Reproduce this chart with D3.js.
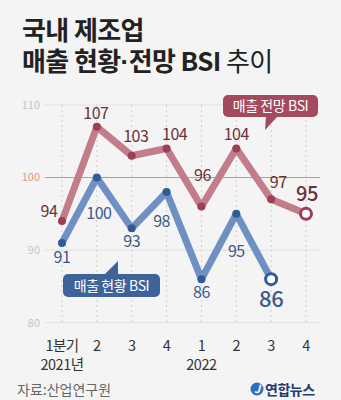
<!DOCTYPE html>
<html><head><meta charset="utf-8">
<script src="https://cdn.jsdelivr.net/npm/d3@7"></script>
<style>
html,body{margin:0;padding:0;background:#f4f4f4;}
svg{display:block;font-family:"Noto Sans CJK KR","Noto Sans",sans-serif;}
</style></head>
<body>
<svg id="c" width="341" height="400"></svg>
<script>
// ---- data ----
const quarters = ["1분기","2","3","4","1","2","3","4"];
const years = ["2021년","","","","2022","","",""];
const outlook = [94,107,103,104,96,104,97,95];   // 매출 전망 BSI
const current = [91,100,93,98,86,95,86];         // 매출 현황 BSI
const yTicks = [80,90,100,110];
const title1 = "국내 제조업";
const title2 = ["매출 현황", "·", "전망 BSI", " 추이"];
const source = "자료:산업연구원";
const outlookName = "매출 전망 BSI";
const currentName = "매출 현황 BSI";

// label offsets (layout)
const outlookOff = [[-13,-4],[-1,-8],[4,-14],[8,-9],[1,-26],[0,-9],[7,-11],[1,-13]];
const currentOff = [[0,20],[2,41],[0,19],[-5,35],[0,19],[0,43],[0,28]];

const svg = d3.select("#c");
const x = d3.scalePoint().domain(d3.range(quarters.length)).range([62,306]);
const y = d3.scaleLinear().domain([80,110]).range([322.7,105]);

// title
svg.append("text").attr("x",22).attr("y",40).attr("font-size",26).attr("font-weight",700)
  .attr("fill","#222").attr("letter-spacing",-0.6).text(title1);
const t2 = svg.append("text").attr("x",22).attr("y",71).attr("font-size",26).attr("fill","#222").attr("letter-spacing",-0.6);
t2.append("tspan").attr("font-weight",700).text(title2[0]);
t2.append("tspan").attr("font-weight",700).attr("font-family","'Liberation Sans',sans-serif").text(title2[1]);
t2.append("tspan").attr("font-weight",700).text(title2[2]);
t2.append("tspan").attr("font-weight",400).text(title2[3]);

// grid
const g = svg.append("g");
g.selectAll("line.grid").data(yTicks).join("line")
  .attr("x1",45).attr("x2",320).attr("y1",d=>y(d)).attr("y2",d=>y(d))
  .attr("stroke",d=>d===100?"#e2876c":"#e0e0e0").attr("stroke-width",1);
g.selectAll("text.yt").data(yTicks).join("text")
  .attr("x",40).attr("y",d=>y(d)).attr("dy","0.35em").attr("text-anchor","end")
  .attr("font-size",11).attr("fill",d=>d===100?"#e39a82":"#c4c4c4").text(d=>d);
// vertical dotted
g.selectAll("line.v").data(quarters).join("line")
  .attr("x1",(d,i)=>x(i)).attr("x2",(d,i)=>x(i)).attr("y1",y(110)).attr("y2",y(80))
  .attr("stroke","#cfcfcf").attr("stroke-dasharray","2,3").attr("stroke-width",1);

// x labels
svg.selectAll("text.xq").data(quarters).join("text")
  .attr("x",(d,i)=>x(i)).attr("y",351).attr("text-anchor","middle")
  .attr("font-size",14.5).attr("fill","#333").attr("letter-spacing",-0.5).text(d=>d);
svg.selectAll("text.xy").data(years).join("text")
  .attr("x",(d,i)=>x(i)).attr("y",370).attr("text-anchor","middle")
  .attr("font-size",14.5).attr("fill","#333").attr("letter-spacing",-0.5).text(d=>d);

const line = d3.line().x((d,i)=>x(i)).y(d=>y(d)).curve(d3.curveLinear);

// series
function drawSeries(data, lineCol, ptCol, labCol, offs, bigSize){
  svg.append("path").datum(data).attr("d",line).attr("fill","none")
    .attr("stroke",lineCol).attr("stroke-width",7).attr("stroke-linejoin","round").attr("stroke-linecap","round");
  const n = data.length;
  svg.selectAll(null).data(data.slice(0,n-1)).join("circle")
    .attr("cx",(d,i)=>x(i)).attr("cy",d=>y(d)).attr("r",4).attr("fill",ptCol);
  svg.append("circle").attr("cx",x(n-1)).attr("cy",y(data[n-1])).attr("r",5.5)
    .attr("fill","#fff").attr("stroke",ptCol).attr("stroke-width",3);
  svg.selectAll(null).data(data).join("text")
    .attr("x",(d,i)=>x(i)+offs[i][0]).attr("y",(d,i)=>y(d)+offs[i][1])
    .attr("text-anchor","middle").attr("font-size",(d,i)=>i===n-1?bigSize:16)
    .attr("font-weight",(d,i)=>i===n-1?500:400)
    .attr("fill",labCol).attr("letter-spacing",-0.5).text(d=>d);
}
drawSeries(outlook,"#c27c8a","#9d3e56","#6a3236",outlookOff,20);
drawSeries(current,"#6f90c3","#2f5c98","#3b5a8a",currentOff,22);

// legend callouts
function callout(x0,y0,w,h,tip,base,fill,label){
  const gg = svg.append("g");
  gg.append("path").attr("d",`M${base[0]},${base[1]} L${tip[0]},${tip[1]} L${base[2]},${base[3]} Z`).attr("fill",fill);
  gg.append("rect").attr("x",x0).attr("y",y0).attr("width",w).attr("height",h).attr("rx",5).attr("fill",fill);
  gg.append("text").attr("x",x0+w/2).attr("y",y0+h/2).attr("dy","0.36em").attr("text-anchor","middle")
    .attr("font-size",14).attr("fill","#fff").attr("letter-spacing",-0.4).text(label);
}
callout(223,95,95,22,[265,130],[266,116,278,116],"#a34a5f",outlookName);
callout(63,274,97,23,[118,261],[104,275,118,275],"#3e6398",currentName);

// source
svg.append("text").attr("x",17).attr("y",395).attr("font-size",14).attr("fill","#666").text(source);
// logo
const lg = svg.append("g");
lg.append("circle").attr("cx",257).attr("cy",389).attr("r",6.5).attr("fill","#2f6fc0");
lg.append("text").attr("x",257).attr("y",393).attr("text-anchor","middle").attr("font-size",11)
  .attr("font-style","italic").attr("font-weight",700).attr("fill","#fff").text("J");
lg.append("text").attr("x",265).attr("y",395).attr("font-size",14).attr("font-weight",700)
  .attr("fill","#1e3b73").attr("letter-spacing",-0.5).text("연합뉴스");
</script>
</body></html>
